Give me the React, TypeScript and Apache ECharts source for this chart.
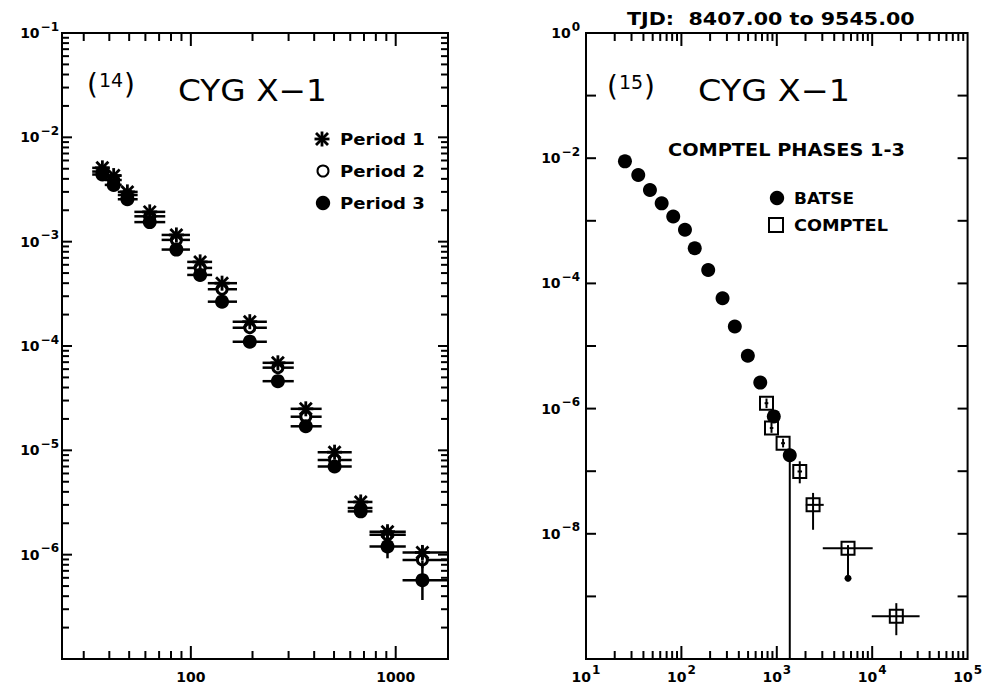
import React, { useEffect, useRef } from 'react';
import * as echarts from 'echarts';

// ---------- data ----------
const LEFT_E = [37, 42, 49, 63, 85, 111, 142, 194, 266, 364, 503, 675, 912, 1350];
const LEFT_E_LO = [33, 38, 44, 53, 72, 96, 121, 160, 224, 307, 416, 583, 745, 1080];
const LEFT_E_HI = [40, 46, 55, 75, 99, 127, 168, 235, 318, 435, 610, 770, 1120, 1800];
const PERIOD1 = [5.1e-3, 4.3e-3, 3.0e-3, 1.93e-3, 1.16e-3, 6.4e-4, 4.0e-4, 1.71e-4, 6.9e-5, 2.5e-5, 9.6e-6, 3.2e-6, 1.66e-6, 1.05e-6];
const PERIOD2 = [4.7e-3, 3.9e-3, 2.8e-3, 1.75e-3, 1.04e-3, 5.6e-4, 3.5e-4, 1.5e-4, 6.2e-5, 2.1e-5, 8.1e-6, 2.8e-6, 1.55e-6, 8.9e-7];
const PERIOD3 = [4.4e-3, 3.5e-3, 2.55e-3, 1.54e-3, 8.4e-4, 4.8e-4, 2.66e-4, 1.1e-4, 4.6e-5, 1.7e-5, 7.0e-6, 2.6e-6, 1.2e-6, 5.7e-7];
const PERIOD1_ERR = [0.06, 0.06, 0.06, 0.07, 0.07, 0.08, 0.08, 0.1, 0.1, 0.1, 0.1, 0.12, 0.14, 0.16];
const PERIOD2_ERR = [0.06, 0.06, 0.06, 0.07, 0.07, 0.08, 0.08, 0.1, 0.1, 0.1, 0.1, 0.12, 0.14, 0.2];
const PERIOD3_ERR = [0.06, 0.06, 0.06, 0.07, 0.07, 0.08, 0.08, 0.1, 0.1, 0.1, 0.12, 0.14, 0.3, 0.55];
const PERIOD_NAMES = ['Period 1', 'Period 2', 'Period 3'];

const BATSE_E = [25.6, 35.3, 46.8, 62.1, 82.1, 109, 138, 191, 270, 363, 497, 671, 930, 1368];
const BATSE_F = [8.9e-3, 5.4e-3, 3.1e-3, 1.9e-3, 1.17e-3, 7.2e-4, 3.65e-4, 1.64e-4, 5.8e-5, 2.05e-5, 7.0e-6, 2.6e-6, 7.5e-7, 1.8e-7];
const BATSE_F_LO = [0, 0, 0, 0, 0, 0, 0, 0, 0, 0, 0, 0, 0, 1e-10];
const COMPTEL_E = [780, 880, 1164, 1741, 2400, 5580, 17900];
const COMPTEL_E_LO = [745, 845, 1110, 1650, 2014, 3034, 9900];
const COMPTEL_E_HI = [815, 920, 1220, 1840, 3104, 10120, 31400];
const COMPTEL_F = [1.22e-6, 4.9e-7, 2.8e-7, 9.9e-8, 2.9e-8, 5.9e-9, 4.8e-10];
const COMPTEL_F_LO = [1.02e-6, 4.1e-7, 2.4e-7, 6.4e-8, 1.16e-8, 1.95e-9, 2.4e-10];
const COMPTEL_F_HI = [1.45e-6, 5.9e-7, 3.3e-7, 1.44e-7, 4.5e-8, 6.6e-9, 7.8e-10];
const COMPTEL_LIMIT = [0, 0, 0, 0, 0, 1, 0];
const RIGHT_NAMES = ['BATSE', 'COMPTEL'];

const LEFT_X_LABELS = [100, 1000];
const LEFT_Y_EXPONENTS = [-1, -2, -3, -4, -5, -6];
const RIGHT_X_EXPONENTS = [1, 2, 3, 4, 5];
const RIGHT_Y_EXPONENTS = [0, -2, -4, -6, -8];

const LEFT_X_RANGE = [23.5, 1800];
const LEFT_Y_RANGE = [1e-7, 1e-1];
const RIGHT_X_RANGE = [10, 1e5];
const RIGHT_Y_RANGE = [1e-10, 1];

const FONT = "'DejaVu Sans', 'Liberation Sans', sans-serif";

function isPow10(v: number) {
  const l = Math.log10(v);
  return Math.abs(l - Math.round(l)) < 1e-6;
}
function supText(e: number) {
  return `{b|10}{e|${e < 0 ? '\u2212' + -e : String(e)}}`;
}
const RICH = {
  b: { fontSize: 14, fontWeight: 'bold', fontFamily: FONT, color: '#000' },
  e: { fontSize: 12, fontWeight: 'bold', fontFamily: FONT, color: '#000', padding: [0, 0, 13, 1] },
};

function line(x1: number, y1: number, x2: number, y2: number, lw: number, c = '#000') {
  return { type: 'line', shape: { x1, y1, x2, y2 }, style: { stroke: c, lineWidth: lw } };
}
function bar(x: number, y: number, w: number, h: number, c = '#000') {
  return { type: 'rect', shape: { x, y, width: w, height: h }, style: { fill: c } };
}
function starShapes(cx: number, cy: number, s: number) {
  const d = s * 0.8;
  return [
    line(cx, cy - s, cx, cy + s, 2.8),
    line(cx - s, cy, cx + s, cy, 2.8),
    line(cx - d, cy - d, cx + d, cy + d, 2.8),
    line(cx - d, cy + d, cx + d, cy - d, 2.8),
  ];
}
function symbolShapes(kind: string, cx: number, cy: number): any[] {
  if (kind === 'star') return starShapes(cx, cy, 7.5);
  if (kind === 'circle') return [{ type: 'circle', shape: { cx, cy, r: 7 }, style: { fill: '#000' } }];
  if (kind === 'ocircle')
    return [{ type: 'circle', shape: { cx, cy, r: 5 }, style: { fill: '#fff', stroke: '#000', lineWidth: 3 } }];
  if (kind === 'square')
    return [{ type: 'rect', shape: { x: cx - 6.5, y: cy - 6.5, width: 13, height: 13 }, style: { fill: 'none', stroke: '#000', lineWidth: 2 } }];
  return [];
}

function pointSeries(name: string, grid: number, data: number[][], kind: string, barWidth: number, z: number) {
  return {
    type: 'custom',
    name,
    xAxisIndex: grid,
    yAxisIndex: grid,
    coordinateSystem: 'cartesian2d',
    clip: true,
    silent: true,
    z,
    encode: { x: 0, y: 1 },
    data,
    renderItem: (_p: any, api: any) => {
      const x = api.value(0), y = api.value(1);
      const xl = api.value(2), xh = api.value(3), yl = api.value(4), yh = api.value(5), flag = api.value(6);
      const c = api.coord([x, y]);
      const ch: any[] = [];
      if (xl > 0 && xh > 0) {
        const a = api.coord([xl, y]), b = api.coord([xh, y]);
        ch.push(line(a[0], c[1], b[0], c[1], barWidth));
      }
      if (yl > 0 && yh > 0) {
        const a = api.coord([x, yl]), b = api.coord([x, yh]);
        ch.push(line(c[0], a[1], c[0], b[1], barWidth));
        if (flag === 1) ch.push({ type: 'circle', shape: { cx: c[0], cy: a[1], r: 3.5 }, style: { fill: '#000' } });
      }
      ch.push(...symbolShapes(kind, c[0], c[1]));
      return { type: 'group', children: ch };
    },
  };
}

// tick marks of one panel (all four sides), positioned through the axes' scales
function tickSeries(grid: number, xTicks: number[][], yTicks: number[][], xr: number[], yr: number[]) {
  const xm = Math.sqrt(xr[0] * xr[1]);
  const ym = Math.sqrt(yr[0] * yr[1]);
  return {
    type: 'custom',
    xAxisIndex: grid,
    yAxisIndex: grid,
    coordinateSystem: 'cartesian2d',
    silent: true,
    clip: false,
    z: 5,
    encode: { x: 0, y: 1 },
    data: [[xm, ym]],
    renderItem: (_p: any, api: any) => {
      const ch: any[] = [];
      const b0 = api.coord([xr[0], yr[0]]);
      const t1 = api.coord([xr[1], yr[1]]);
      const left = b0[0], bottom = b0[1], right = t1[0], top = t1[1];
      xTicks.forEach(([v, len]) => {
        const p = api.coord([v, ym]);
        ch.push(bar(p[0] - 1, bottom - len, 2, len));
        ch.push(bar(p[0] - 1, top, 2, len));
      });
      yTicks.forEach(([v, len]) => {
        const p = api.coord([xm, v]);
        ch.push(bar(left, p[1] - 1, len, 2));
        ch.push(bar(right - len, p[1] - 1, len, 2));
      });
      return { type: 'group', children: ch };
    },
  };
}

function measure(text: string, font: string) {
  const ctx = document.createElement('canvas').getContext('2d')!;
  ctx.font = font;
  return ctx.measureText(text).width;
}
function fitText(text: string, x: number, cy: number, width: number, size: number, weight: string) {
  const w = measure(text, `${weight} ${size}px ${FONT}`);
  return {
    type: 'text',
    x,
    y: cy,
    scaleX: width / w,
    style: { text, fontSize: size, fontWeight: weight, fontFamily: FONT, fill: '#000', textAlign: 'left', textVerticalAlign: 'middle', align: 'left', verticalAlign: 'middle' },
  };
}
function panelNumber(text: string, x: number, cy: number) {
  return {
    type: 'text',
    x,
    y: cy,
    style: {
      text: `{p|(}{n|${text}}{p|)}`,
      rich: {
        p: { fontSize: 28, fontFamily: FONT, fill: '#000', color: '#000' },
        n: { fontSize: 19, fontFamily: FONT, fill: '#000', color: '#000', padding: [0, 1, 9, 1] },
      },
      textVerticalAlign: 'middle',
      verticalAlign: 'middle',
    },
  };
}

export default function App() {
  const ref = useRef<HTMLDivElement>(null);
  useEffect(() => {
    if (!ref.current) return;
    const chart = echarts.init(ref.current, undefined, { renderer: 'svg' });

    const lxTicks: number[][] = [];
    for (let d = 1; d <= 3; d++)
      for (let k = 1; k <= 9; k++) {
        const v = k * Math.pow(10, d);
        if (v > LEFT_X_RANGE[0] && v < LEFT_X_RANGE[1]) lxTicks.push([v, k === 1 ? 13 : 8]);
      }
    const lyTicks: number[][] = [];
    for (let d = -7; d <= -2; d++)
      for (let k = 1; k <= 9; k++) {
        const v = k * Math.pow(10, d);
        if (v > LEFT_Y_RANGE[0] * 1.0001 && v < LEFT_Y_RANGE[1] * 0.9999) lyTicks.push([v, k === 1 ? 10 : 7]);
      }
    const rxTicks: number[][] = [];
    for (let d = 1; d <= 4; d++)
      for (let k = 1; k <= 9; k++) {
        const v = k * Math.pow(10, d);
        if (v > RIGHT_X_RANGE[0] * 1.0001 && v < RIGHT_X_RANGE[1] * 0.9999) rxTicks.push([v, k === 1 ? 13 : 8]);
      }
    const ryTicks: number[][] = [];
    for (let d = -9; d <= -1; d++) ryTicks.push([Math.pow(10, d), 10]);

    const mkPeriod = (vals: number[], errs: number[]) =>
      LEFT_E.map((e, i) => [e, vals[i], LEFT_E_LO[i], LEFT_E_HI[i], vals[i] / (1 + errs[i]), vals[i] * (1 + errs[i]), 0]);
    const batse = BATSE_E.map((e, i) => [e, BATSE_F[i], 0, 0, BATSE_F_LO[i], BATSE_F_LO[i] > 0 ? BATSE_F[i] : 0, 0]);
    const comptel = COMPTEL_E.map((e, i) => [e, COMPTEL_F[i], COMPTEL_E_LO[i], COMPTEL_E_HI[i], COMPTEL_F_LO[i], COMPTEL_F_HI[i], COMPTEL_LIMIT[i]]);

    const axisCommon = {
      type: 'log',
      logBase: 10,
      axisLine: { show: false },
      axisTick: { show: false },
      minorTick: { show: false },
      splitLine: { show: false },
      minorSplitLine: { show: false },
    };

    const graphics: any[] = [
      panelNumber('14', 87, 84),
      fitText('CYG X\u22121', 178, 90, 149, 30, 'normal'),
      fitText(PERIOD_NAMES[0], 340, 139, 85, 16, 'bold'),
      fitText(PERIOD_NAMES[1], 340, 171, 85, 16, 'bold'),
      fitText(PERIOD_NAMES[2], 340, 203, 85, 16, 'bold'),
      ...starShapes(322, 139, 7.5),
      { type: 'circle', shape: { cx: 323, cy: 171, r: 5.5 }, style: { fill: '#fff', stroke: '#000', lineWidth: 2 } },
      { type: 'circle', shape: { cx: 323, cy: 203, r: 7.2 }, style: { fill: '#000' } },
      fitText('TJD:  8407.00 to 9545.00', 627, 19, 288, 17, 'bold'),
      panelNumber('15', 607, 86),
      fitText('CYG X\u22121', 698, 91, 152, 30, 'normal'),
      fitText('COMPTEL PHASES 1-3', 668, 150, 237, 17, 'bold'),
      fitText(RIGHT_NAMES[0], 794, 199, 60, 16, 'bold'),
      fitText(RIGHT_NAMES[1], 794, 225, 94, 16, 'bold'),
      { type: 'circle', shape: { cx: 777, cy: 198, r: 7.2 }, style: { fill: '#000' } },
      { type: 'rect', shape: { x: 769, y: 218, width: 14, height: 14 }, style: { fill: 'none', stroke: '#000', lineWidth: 2 } },
    ];

    chart.setOption({
      animation: false,
      backgroundColor: '#fff',
      grid: [
        { left: 62, top: 33, width: 386, height: 626, show: true, borderColor: '#000', borderWidth: 2, backgroundColor: 'transparent' },
        { left: 586, top: 33, width: 382, height: 626, show: true, borderColor: '#000', borderWidth: 2, backgroundColor: 'transparent' },
      ],
      xAxis: [
        {
          ...axisCommon,
          gridIndex: 0,
          min: LEFT_X_RANGE[0],
          max: LEFT_X_RANGE[1],
          axisLabel: {
            margin: 11, color: '#000', fontFamily: FONT, fontWeight: 'bold', fontSize: 14,
            formatter: (v: number) => {
              const r = Math.round(v);
              return isPow10(v) && LEFT_X_LABELS.includes(r) ? String(r) : '';
            },
          },
        },
        {
          ...axisCommon,
          gridIndex: 1,
          min: RIGHT_X_RANGE[0],
          max: RIGHT_X_RANGE[1],
          axisLabel: {
            margin: 5, rich: RICH,
            formatter: (v: number) => {
              if (!isPow10(v)) return '';
              const e = Math.round(Math.log10(v));
              return RIGHT_X_EXPONENTS.includes(e) ? supText(e) : '';
            },
          },
        },
      ],
      yAxis: [
        {
          ...axisCommon,
          gridIndex: 0,
          min: LEFT_Y_RANGE[0],
          max: LEFT_Y_RANGE[1],
          axisLabel: {
            margin: 3, rich: RICH,
            formatter: (v: number) => {
              if (!isPow10(v)) return '';
              const e = Math.round(Math.log10(v));
              return LEFT_Y_EXPONENTS.includes(e) ? supText(e) : '';
            },
          },
        },
        {
          ...axisCommon,
          gridIndex: 1,
          min: RIGHT_Y_RANGE[0],
          max: RIGHT_Y_RANGE[1],
          interval: 2,
          axisLabel: {
            margin: 6, rich: RICH,
            formatter: (v: number) => {
              if (!isPow10(v)) return '';
              const e = Math.round(Math.log10(v));
              return RIGHT_Y_EXPONENTS.includes(e) ? supText(e) : '';
            },
          },
        },
      ],
      graphic: graphics,
      series: [
        tickSeries(0, lxTicks, lyTicks, LEFT_X_RANGE, LEFT_Y_RANGE),
        tickSeries(1, rxTicks, ryTicks, RIGHT_X_RANGE, RIGHT_Y_RANGE),
        pointSeries(PERIOD_NAMES[1], 0, mkPeriod(PERIOD2, PERIOD2_ERR), 'ocircle', 2.5, 10),
        pointSeries(PERIOD_NAMES[2], 0, mkPeriod(PERIOD3, PERIOD3_ERR), 'circle', 2.5, 11),
        pointSeries(PERIOD_NAMES[0], 0, mkPeriod(PERIOD1, PERIOD1_ERR), 'star', 2.5, 12),
        pointSeries(RIGHT_NAMES[0], 1, batse, 'circle', 2, 10),
        pointSeries(RIGHT_NAMES[1], 1, comptel, 'square', 2, 11),
      ],
    });
    return () => chart.dispose();
  }, []);
  return <div ref={ref} style={{ position: 'absolute', left: 0, top: 0, width: 985, height: 696, background: '#fff' }} />;
}
